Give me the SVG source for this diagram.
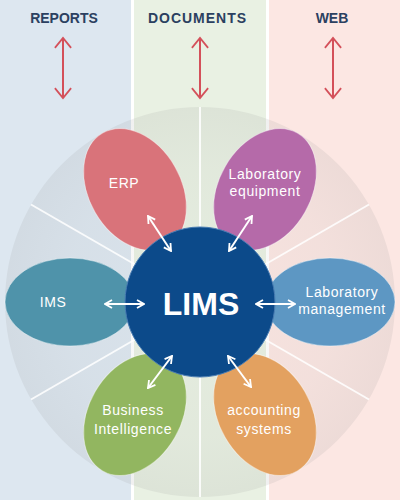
<svg xmlns="http://www.w3.org/2000/svg" width="400" height="500" viewBox="0 0 400 500">
<defs>
<style>
.hdr{font-family:"Liberation Sans",Arial,sans-serif;font-weight:bold;font-size:14px;fill:#2b4060;text-anchor:middle}
.pt{font-family:"Liberation Sans",Arial,sans-serif;font-size:14px;fill:#ffffff;text-anchor:middle;letter-spacing:0.6px}
.petal{stroke:#ffffff;stroke-opacity:0.45;stroke-width:1}
.wa{stroke:#ffffff;stroke-width:2;fill:none;marker-start:url(#wh);marker-end:url(#wh)}
.ra{stroke:#d4505a;stroke-width:2;fill:none;marker-start:url(#rh);marker-end:url(#rh)}
.sep{stroke:#ffffff;stroke-width:2;stroke-opacity:0.85}
</style>
<marker id="wh" viewBox="0 0 10 10" refX="9" refY="5" markerWidth="10" markerHeight="10" markerUnits="userSpaceOnUse" orient="auto-start-reverse">
<path d="M2,1 L9,5 L2,9" fill="none" stroke="#ffffff" stroke-width="1.8"/>
</marker>
<marker id="rh" viewBox="0 0 20 20" refX="18" refY="10" markerWidth="18" markerHeight="18" markerUnits="userSpaceOnUse" orient="auto-start-reverse">
<path d="M7,1 L18,10 L7,19" fill="none" stroke="#d4505a" stroke-width="2"/>
</marker>
<radialGradient id="bg" cx="200" cy="302" r="195" gradientUnits="userSpaceOnUse">
<stop offset="0" stop-color="#8a8a8a" stop-opacity="0.04"/>
<stop offset="0.7" stop-color="#8a8a8a" stop-opacity="0.08"/>
<stop offset="1" stop-color="#8a8a8a" stop-opacity="0.13"/>
</radialGradient>
</defs>
<rect width="400" height="500" fill="#ffffff"/>
<g id="columns">
<rect x="0" y="0" width="131" height="500" fill="#dde7f0"/>
<rect x="134" y="0" width="132" height="500" fill="#e9f1e3"/>
<rect x="269" y="0" width="131" height="500" fill="#fce7e3"/>
</g>
<g id="backdrop">
<circle cx="200" cy="302" r="195" fill="url(#bg)"/>
<line class="sep" x1="200" y1="107" x2="200" y2="497"/>
<line class="sep" x1="31" y1="204.5" x2="369" y2="399.5"/>
<line class="sep" x1="31" y1="399.5" x2="369" y2="204.5"/>
</g>
<g id="header-reports"><text class="hdr" x="64" y="23">REPORTS</text></g>
<g id="header-documents"><text class="hdr" x="197" y="23" textLength="98" lengthAdjust="spacing">DOCUMENTS</text></g>
<g id="header-web"><text class="hdr" x="332" y="23">WEB</text></g>
<g id="erp">
<ellipse class="petal" cx="135" cy="189.4" rx="65" ry="46" transform="rotate(60 135 189.4)" fill="#d9737a"/>
<text class="pt" x="124" y="188">ERP</text>
</g>
<g id="lab-equipment">
<ellipse class="petal" cx="265" cy="189.4" rx="65" ry="46" transform="rotate(-60 265 189.4)" fill="#b56aa9"/>
<text class="pt" x="265" y="179">Laboratory</text>
<text class="pt" x="265" y="196">equipment</text>
</g>
<g id="ims">
<ellipse class="petal" cx="70" cy="302" rx="65" ry="44" fill="#4f93aa"/>
<text class="pt" x="53" y="307">IMS</text>
</g>
<g id="lab-management">
<ellipse class="petal" cx="330" cy="302" rx="65" ry="44" fill="#5d97c3"/>
<text class="pt" x="342" y="297">Laboratory</text>
<text class="pt" x="342" y="314">management</text>
</g>
<g id="business-intelligence">
<ellipse class="petal" cx="135" cy="414.6" rx="65" ry="46" transform="rotate(-60 135 414.6)" fill="#92b660"/>
<text class="pt" x="133" y="415">Business</text>
<text class="pt" x="133" y="434">Intelligence</text>
</g>
<g id="accounting-systems">
<ellipse class="petal" cx="265" cy="414.6" rx="65" ry="46" transform="rotate(60 265 414.6)" fill="#e3a160"/>
<text class="pt" x="264" y="415">accounting</text>
<text class="pt" x="264" y="434">systems</text>
</g>
<g id="lims">
<circle cx="200" cy="302" r="75" fill="#0c4a8a" stroke="#4a7db3" stroke-width="1"/>
<text x="201" y="315" font-family="'Liberation Sans',Arial,sans-serif" font-weight="bold" font-size="32" fill="#ffffff" text-anchor="middle">LIMS</text>
</g>
<g id="connectors">
<line class="ra" x1="63" y1="38" x2="63" y2="98"/>
<line class="ra" x1="200" y1="38" x2="200" y2="98"/>
<line class="ra" x1="333" y1="38" x2="333" y2="98"/>
<line class="wa" x1="148" y1="216" x2="171" y2="251"/>
<line class="wa" x1="252" y1="216" x2="229" y2="251"/>
<line class="wa" x1="105" y1="304" x2="144" y2="304"/>
<line class="wa" x1="256" y1="304" x2="295" y2="304"/>
<line class="wa" x1="172" y1="356" x2="148" y2="388"/>
<line class="wa" x1="228" y1="356" x2="251" y2="387"/>
</g>
</svg>
